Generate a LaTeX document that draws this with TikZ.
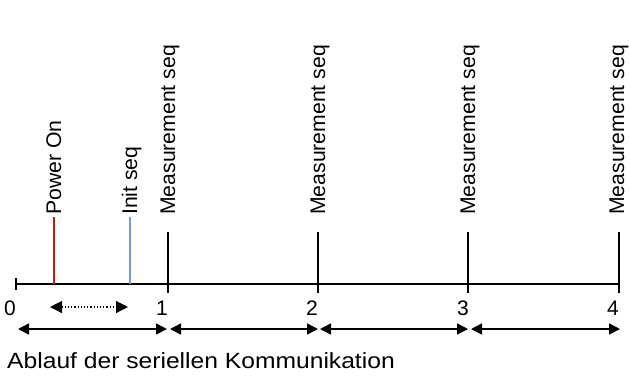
\documentclass[tikz,border=0pt]{standalone}
\usepackage{fontspec}
\setmainfont{Liberation Sans}
\usetikzlibrary{arrows.meta}
\definecolor{poweron}{RGB}{200,20,20}
\definecolor{initblue}{RGB}{110,155,230}
\tikzset{
  axisline/.style={line width=1.6bp, black},
  tickline/.style={line width=1.5bp, black},
  seqlabel/.style={rotate=90, anchor=base west, inner sep=0pt,
    font=\fontsize{21.2bp}{24bp}\selectfont},
  ticknum/.style={inner sep=0pt, font=\fontsize{21bp}{24bp}\selectfont},
  span/.style={line width=1.6bp, {Triangle[length=11bp,width=11bp]}-{Triangle[length=11bp,width=11bp]}},
  initspan/.style={line width=1.2bp, dotted, {Triangle[length=12bp,width=12bp]}-{Triangle[length=12bp,width=12bp]}}
}
\begin{document}
\begin{tikzpicture}[x=1bp, y=-1bp]
\useasboundingbox (0,0) rectangle (629,376);

% time axis with tick positions
\coordinate (t0) at (16,284);
\coordinate (t1) at (168,284);
\coordinate (t2) at (318,284);
\coordinate (t3) at (468,284);
\coordinate (t4) at (619,284);
\draw[axisline] (t0) -- (t4);
\draw[tickline] (16,278) -- (16,290);

% event markers on the axis
\coordinate (pon) at (54,284);
\coordinate (ini) at (130,284);
\draw[line width=1.5bp, poweron] (pon) -- (54,217) coordinate (ponTop);
\draw[line width=1.5bp, initblue] (ini) -- (130,217) coordinate (iniTop);
\node[seqlabel] (lpon) at (61,215) {Power On};
\node[seqlabel] (lini) at (137,215) {Init seq};

% measurement sequence markers
\foreach \i/\x/\dx in {1/168/7,2/318/7,3/468/7,4/619/5}{
  \draw[tickline] (\x,232) -- (\x,293);
  \node[seqlabel] (lm\i) at (\x+\dx,215) {Measurement seq};
}

% tick numbers
\node[ticknum] (n0) at (10,308) {0};
\node[ticknum] (n1) at (162,308) {1};
\node[ticknum] (n2) at (312,308) {2};
\node[ticknum] (n3) at (463,308) {3};
\node[ticknum] (n4) at (613,308) {4};

% init duration
\coordinate (d0) at (50,307);
\coordinate (d1) at (128,307);
\draw[initspan] (d0) -- (d1);

% measurement intervals
\coordinate (a0) at (18,329);
\coordinate (a1l) at (167,329);
\coordinate (a1r) at (170,329);
\coordinate (a2l) at (318,329);
\coordinate (a2r) at (320,329);
\coordinate (a3l) at (468,329);
\coordinate (a3r) at (471,329);
\coordinate (a4) at (620,329);
\draw[span] (a0) -- (a1l);
\draw[span] (a1r) -- (a2l);
\draw[span] (a2r) -- (a3l);
\draw[span] (a3r) -- (a4);

% caption
\node[anchor=base west, inner sep=0pt, font=\fontsize{22bp}{26bp}\selectfont] (cap) at (7,368)
  {\scalebox{1.12}[1]{Ablauf der seriellen Kommunikation}};
\end{tikzpicture}
\end{document}
